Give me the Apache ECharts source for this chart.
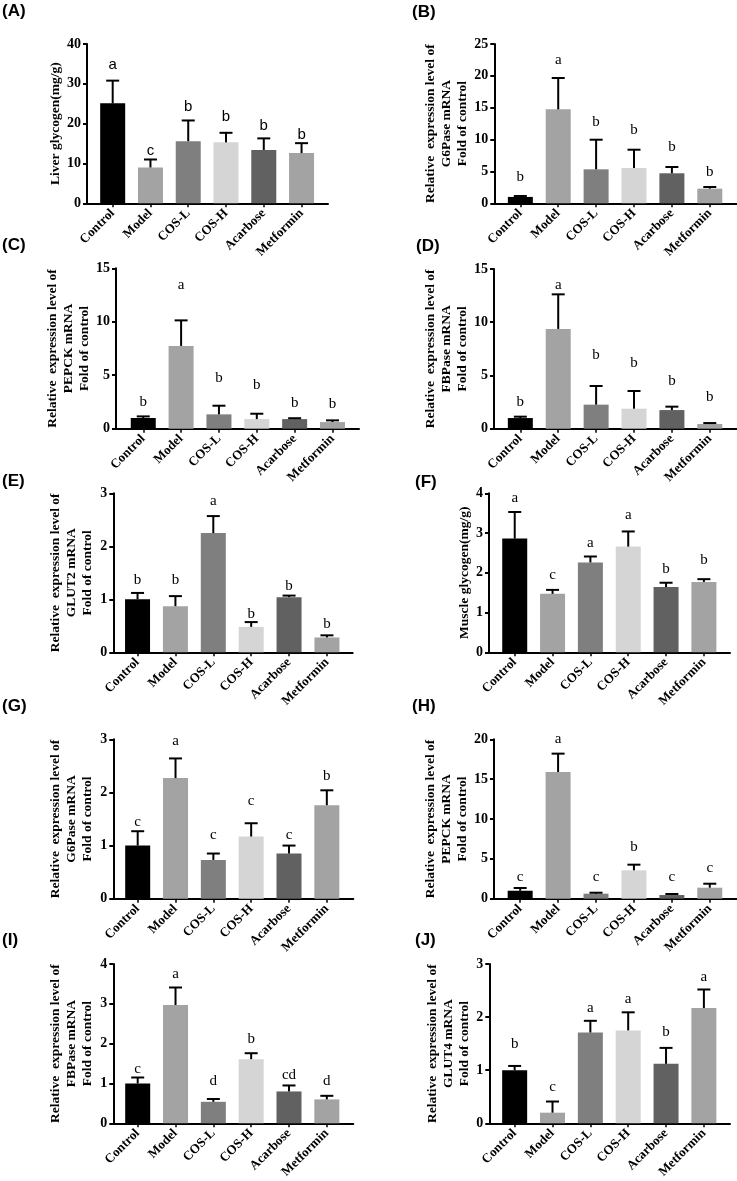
<!DOCTYPE html>
<html><head><meta charset="utf-8">
<script src="https://cdn.jsdelivr.net/npm/echarts@6/dist/echarts.min.js"></script>
<style>html,body{margin:0;padding:0;background:#fff}#c{width:737px;height:1181px}</style>
</head><body><div id="c"></div><script>
// ---------- DATA ----------
const categories = ['Control', 'Model', 'COS-L', 'COS-H', 'Acarbose', 'Metformin'];

// (A) Liver glycogen
const aMean = [25.1, 9.0, 15.6, 15.3, 13.4, 12.6];
const aErrTop = [30.8, 11.0, 20.8, 17.7, 16.3, 15.1];
const aLetters = ['a', 'c', 'b', 'b', 'b', 'b'];
const aLetterY = [33.7, 12.0, 23.2, 20.5, 18.3, 16.0];
// (B) liver G6Pase
const bMean = [1.0, 14.75, 5.33, 5.54, 4.71, 2.3];
const bErrTop = [1.15, 19.66, 9.98, 8.41, 5.7, 2.56];
const bLetters = ['b', 'a', 'b', 'b', 'b', 'b'];
const bLetterY = [3.4, 21.7, 12.0, 10.8, 8.1, 4.2];
// (C) liver PEPCK
const cMean = [1.0, 7.74, 1.34, 0.9, 0.9, 0.62];
const cErrTop = [1.15, 10.13, 2.15, 1.4, 0.98, 0.78];
const cLetters = ['b', 'a', 'b', 'b', 'b', 'b'];
const cLetterY = [2.06, 13.0, 4.3, 3.7, 2.0, 1.9];
// (D) liver FBPase
const dMean = [1.0, 9.37, 2.26, 1.88, 1.75, 0.44];
const dErrTop = [1.13, 12.62, 4.01, 3.54, 2.07, 0.53];
const dLetters = ['b', 'a', 'b', 'b', 'b', 'b'];
const dLetterY = [2.07, 13.1, 6.45, 5.73, 4.04, 2.54];
// (E) GLUT2
const eMean = [1.0, 0.87, 2.25, 0.48, 1.04, 0.28];
const eErrTop = [1.12, 1.06, 2.57, 0.57, 1.07, 0.32];
const eLetters = ['b', 'b', 'a', 'b', 'b', 'b'];
const eLetterY = [1.27, 1.27, 2.76, 0.64, 1.16, 0.45];
// (F) Muscle glycogen
const fMean = [2.86, 1.47, 2.26, 2.66, 1.64, 1.77];
const fErrTop = [3.53, 1.57, 2.41, 3.04, 1.75, 1.84];
const fLetters = ['a', 'c', 'a', 'a', 'b', 'b'];
const fLetterY = [3.77, 1.84, 2.64, 3.35, 1.99, 2.2];
// (G) muscle G6Pase
const gMean = [1.0, 2.27, 0.73, 1.17, 0.85, 1.76];
const gErrTop = [1.27, 2.64, 0.85, 1.42, 1.0, 2.04];
const gLetters = ['c', 'a', 'c', 'c', 'c', 'b'];
const gLetterY = [1.36, 2.89, 1.12, 1.75, 1.12, 2.22];
// (H) muscle PEPCK
const hMean = [1.0, 15.9, 0.63, 3.56, 0.46, 1.38];
const hErrTop = [1.34, 18.2, 0.75, 4.27, 0.59, 1.88];
const hLetters = ['c', 'a', 'c', 'b', 'c', 'c'];
const hLetterY = [2.13, 19.5, 2.13, 5.9, 2.13, 3.26];
// (I) muscle FBPase
const iMean = [1.0, 2.97, 0.54, 1.61, 0.80, 0.60];
const iErrTop = [1.15, 3.41, 0.61, 1.76, 0.95, 0.69];
const iLetters = ['c', 'a', 'd', 'b', 'cd', 'd'];
const iLetterY = [1.24, 3.64, 0.96, 1.99, 1.09, 0.96];
// (J) GLUT4
const jMean = [1.0, 0.2, 1.71, 1.75, 1.12, 2.17];
const jErrTop = [1.08, 0.41, 1.93, 2.09, 1.42, 2.52];
const jLetters = ['b', 'c', 'a', 'a', 'b', 'a'];
const jLetterY = [1.41, 0.6, 2.08, 2.25, 1.63, 2.66];

const panelTags = ['(A)', '(B)', '(C)', '(D)', '(E)', '(F)', '(G)', '(H)', '(I)', '(J)'];
const yTitles = [
  'Liver glycogen(mg/g)',
  'Relative  expression level of\nG6Pase mRNA\nFold of control',
  'Relative  expression level of\nPEPCK mRNA\nFold of control',
  'Relative  expression level of\nFBPase mRNA\nFold of control',
  'Relative  expression level of\nGLUT2 mRNA\nFold of control',
  'Muscle glycogen(mg/g)',
  'Relative  expression level of\nG6Pase mRNA\nFold of control',
  'Relative  expression level of\nPEPCK mRNA\nFold of control',
  'Relative  expression level of\nFBPase mRNA\nFold of control',
  'Relative  expression level of\nGLUT4 mRNA\nFold of control'
];
const yMax = [40, 25, 15, 15, 3, 4, 3, 20, 4, 3];
const yStep = [10, 5, 5, 5, 1, 1, 1, 5, 1, 1];

const means = [aMean, bMean, cMean, dMean, eMean, fMean, gMean, hMean, iMean, jMean];
const errTops = [aErrTop, bErrTop, cErrTop, dErrTop, eErrTop, fErrTop, gErrTop, hErrTop, iErrTop, jErrTop];
const letters = [aLetters, bLetters, cLetters, dLetters, eLetters, fLetters, gLetters, hLetters, iLetters, jLetters];
const letterYs = [aLetterY, bLetterY, cLetterY, dLetterY, eLetterY, fLetterY, gLetterY, hLetterY, iLetterY, jLetterY];

// ---------- LAYOUT / STYLE ----------
const W = 737, H = 1181;
const barColors = ['#000000', '#a3a3a3', '#7f7f7f', '#d5d5d5', '#616161', '#a3a3a3'];
// [axisLeft, axisTop, axisRight, axisBottom, xMin, xMax, nameGap]
const layout = [
  [87, 44, 328, 203.3, -0.68, 5.70, 20],
  [494.3, 44, 736.7, 203.3, -0.687, 5.71, 21],
  [116, 268.3, 359, 428.7, -0.72, 5.70, 18],
  [494, 269, 736.7, 428.7, -0.695, 5.71, 21],
  [113.3, 493.3, 352.7, 652.3, -0.64, 5.68, 18],
  [489, 493.3, 730, 652.3, -0.68, 5.69, 16],
  [113.3, 739.3, 353.3, 898.7, -0.645, 5.70, 18],
  [494, 739.3, 736.7, 898.7, -0.69, 5.71, 21],
  [113.3, 964, 353.3, 1123.3, -0.645, 5.70, 18],
  [489.3, 964, 730, 1123.3, -0.67, 5.69, 17]
];
const tagPos = [[2, 3], [412, 4], [2, 237], [416, 238], [2, 473], [415, 474], [2, 698], [412, 698], [2, 932], [415, 932]];

const SERIF = '"Liberation Serif", "Times New Roman", serif';
const SANS = '"Liberation Sans", Arial, sans-serif';

const grids = [], xAxes = [], yAxes = [], series = [], graphics = [];
layout.forEach((L, p) => {
  const [l, t, r, b, xmin, xmax, gap] = L;
  grids.push({ left: l, top: t, width: r - l, height: b - t, outerBoundsMode: 'none', containLabel: false });
  xAxes.push({
    type: 'value', gridIndex: p, min: xmin, max: xmax, position: 'bottom',
    splitLine: { show: false },
    axisLine: { show: true, onZero: false, lineStyle: { color: '#000', width: 2 } },
    axisTick: { show: true, customValues: [0, 1, 2, 3, 4, 5], length: 4, lineStyle: { color: '#000', width: 1.5 } },
    axisLabel: {
      customValues: [0, 1, 2, 3, 4, 5], rotate: 45, margin: 8,
      formatter: v => categories[Math.round(v)],
      fontFamily: SERIF, fontWeight: 'bold', fontSize: 13, color: '#000'
    }
  });
  yAxes.push({
    type: 'value', gridIndex: p, min: 0, max: yMax[p], interval: yStep[p],
    splitLine: { show: false },
    axisLine: { show: true, onZero: false, lineStyle: { color: '#000', width: 2 } },
    axisTick: { show: true, length: 4, lineStyle: { color: '#000', width: 2 } },
    axisLabel: { margin: 6, fontFamily: SERIF, fontWeight: 'bold', fontSize: 14, color: '#000' },
    name: yTitles[p], nameLocation: 'middle', nameGap: gap,
    nameTextStyle: { fontFamily: SERIF, fontWeight: 'bold', fontSize: 13.5, lineHeight: 16, color: '#000', align: 'center' }
  });
  const m = means[p], e = errTops[p], lt = letters[p], ly = letterYs[p];
  series.push({
    type: 'bar', xAxisIndex: p, yAxisIndex: p, barWidth: 25,
    data: m.map((v, i) => ({ value: [i, v], itemStyle: { color: barColors[i] } })),
    silent: true, animation: false
  });
  series.push({
    type: 'custom', xAxisIndex: p, yAxisIndex: p, silent: true, animation: false, z: 5,
    data: m.map((v, i) => [i, e[i], v]),
    renderItem: (params, api) => {
      const i = api.value(0);
      const p1 = api.coord([i, api.value(2)]);
      const p2 = api.coord([i, api.value(1)]);
      return { type: 'group', children: [
        { type: 'line', shape: { x1: p1[0], y1: p1[1], x2: p2[0], y2: p2[1] }, style: { stroke: '#000', lineWidth: 2 } },
        { type: 'line', shape: { x1: p2[0] - 6.5, y1: p2[1], x2: p2[0] + 6.5, y2: p2[1] }, style: { stroke: '#000', lineWidth: 2 } }
      ] };
    }
  });
  const letterFont = p === 0 ? ('15px ' + SANS) : ('15px ' + SERIF);
  series.push({
    type: 'custom', xAxisIndex: p, yAxisIndex: p, silent: true, animation: false, z: 6,
    data: ly.map((v, i) => [i, v]),
    renderItem: (params, api) => {
      const pt = api.coord([api.value(0), api.value(1)]);
      return { type: 'text', x: pt[0], y: pt[1] + 3, style: {
        text: lt[params.dataIndex], font: letterFont, fill: '#000',
        textAlign: 'center', textVerticalAlign: 'bottom' } };
    }
  });
  graphics.push({ type: 'text', left: tagPos[p][0], top: tagPos[p][1],
    style: { text: panelTags[p], font: 'bold 17px ' + SANS, fill: '#000' } });
});

const chart = echarts.init(document.getElementById('c'), null, { renderer: 'canvas', width: W, height: H });
chart.setOption({
  backgroundColor: '#ffffff',
  animation: false,
  grid: grids, xAxis: xAxes, yAxis: yAxes, series: series, graphic: graphics
});
</script></body></html>
